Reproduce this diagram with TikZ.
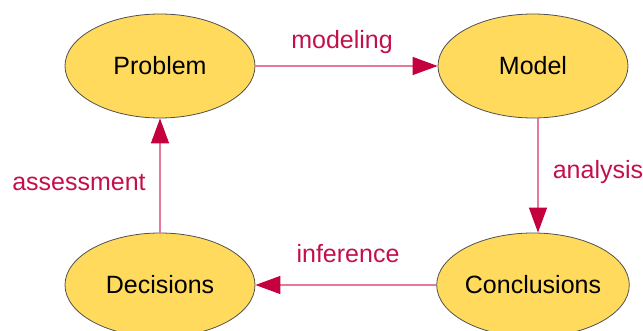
\documentclass[tikz,border=0pt]{standalone}
\usepackage{fontspec}
\setmainfont{Liberation Sans}
\usetikzlibrary{arrows.meta,shapes.geometric}
\definecolor{stagefill}{HTML}{FFDA5C}
\definecolor{stageline}{HTML}{505050}
\definecolor{flowline}{HTML}{E47A98}
\definecolor{flowhead}{HTML}{C4003E}
\definecolor{flowtext}{HTML}{C4104A}
\tikzset{
  stage/.style={ellipse, draw=stageline, line width=0.8pt, fill=stagefill,
    minimum width=190pt, minimum height=104pt, inner sep=0pt,
    font=\fontsize{25}{28}\selectfont, text=black},
  flow/.style={draw=flowline, line width=1.4pt,
    -{Triangle[length=25pt, width=18pt, color=flowhead]}},
  flowlabel/.style={font=\fontsize{25}{28}\selectfont, text=flowtext}
}
\begin{document}
\begin{tikzpicture}[x=1pt, y=-1pt]
  \useasboundingbox (0,0) rectangle (643,331);
  % the four stages of the cycle
  \node[stage] (problem) at (160,66) {Problem};
  \node[stage] (model) at (533,66) {Model};
  \node[stage] (conclusions) at (533,285) {Conclusions};
  \node[stage] (decisions) at (160,285) {Decisions};
  % transitions between stages
  \draw[flow] (problem.east) -- (model.west);
  \draw[flow] ([xshift=5pt]model.south) -- ([xshift=5pt]conclusions.north);
  \draw[flow] (conclusions.west) -- (decisions.east);
  \draw[flow] (decisions.north) -- (problem.south);
  % transition labels
  \node[flowlabel] (lmodeling) at (342,42) {modeling};
  \node[flowlabel] (lanalysis) at (598,172) {analysis};
  \node[flowlabel] (linference) at (348,254) {inference};
  \node[flowlabel] (lassessment) at (79,183) {assessment};
\end{tikzpicture}
\end{document}
